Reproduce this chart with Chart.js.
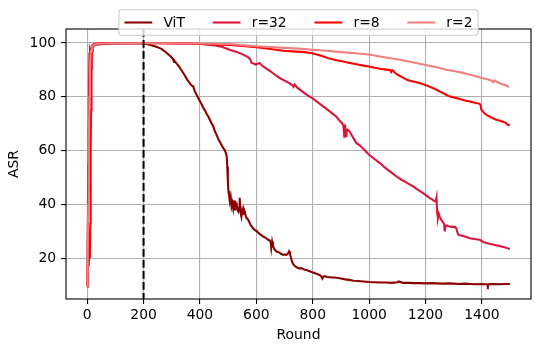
<!DOCTYPE html>
<html><head><meta charset="utf-8">
<script src="https://cdn.jsdelivr.net/npm/chart.js@4/dist/chart.umd.min.js"></script>
<style>html,body{margin:0;padding:0;background:#fff;}canvas{display:block;}</style>
</head><body>
<canvas id="c" width="540" height="352" style="width:540px;height:352px"></canvas>
<script>
// ---- data ----
const seriesLabels = ['ViT', 'r=32', 'r=8', 'r=2'];
const seriesColors = ['#8b0000', '#dc143c', '#ff0000', '#f08080'];
const xTicks = [0, 200, 400, 600, 800, 1000, 1200, 1400];
const yTicks = [20, 40, 60, 80, 100];
const triggerRound = 200;
const xLabel = 'Round';
const yLabel = 'ASR';

const vitRounds = [
 0, 2, 4, 6, 8, 10, 12, 14, 17, 20,
 25, 30, 40, 60, 80, 100, 130, 160, 200, 210,
 220, 230, 240, 250, 258, 266, 274, 282, 290, 298,
 304, 308, 311, 316, 322, 330, 338, 346, 354, 362,
 370, 376, 382, 388, 394, 400, 406, 412, 418, 424,
 430, 435, 441, 447, 453, 459, 465, 470, 476, 482,
 488, 492, 495, 497, 499, 501, 503, 506, 509, 512,
 515, 518, 521, 524, 527, 530, 533, 536, 539, 541,
 543, 545, 547, 550, 553, 556, 559, 562, 565, 568,
 571, 576, 580, 584, 588, 594, 600, 606, 612, 618,
 624, 630, 636, 642, 648, 651, 653, 656, 659, 662,
 665, 668, 671, 677, 683, 689, 695, 700, 705, 710,
 713, 716, 719, 722, 726, 730, 734, 738, 743, 748,
 754, 760, 766, 772, 778, 784, 790, 796, 801, 808,
 815, 822, 828, 834, 838, 845, 852, 860, 868, 876,
 885, 900, 915, 930, 945, 960, 980, 1000, 1020, 1040,
 1060, 1080, 1100, 1104, 1120, 1140, 1160, 1180, 1200, 1220,
 1240, 1260, 1280, 1300, 1320, 1340, 1360, 1380, 1400, 1410,
 1418, 1421, 1424, 1440, 1460, 1480, 1499
];
const vitASR = [
 9.5, 22, 45, 68, 84, 92, 95.5, 97.2, 98.3, 98.8,
 99.2, 99.4, 99.5, 99.6, 99.7, 99.8, 99.8, 99.9, 99.8, 99.6,
 99.4, 99.1, 98.8, 98.4, 98.1, 97.6, 97.0, 96.3, 95.6, 94.8,
 94.1, 93.0, 93.2, 92.5, 91.8, 90.6, 89.3, 88.0, 86.5, 85.4,
 84.2, 83.9, 82.0, 80.8, 79.6, 78.4, 77.2, 75.9, 74.9, 73.6,
 72.6, 71.5, 70.2, 69.1, 67.2, 65.9, 64.3, 63.4, 62.2, 61.0,
 60.2, 59.1, 57.8, 54.0, 48.5, 45.0, 43.6, 41.2, 42.8, 39.3,
 40.6, 38.6, 41.5, 37.8, 39.6, 40.2, 38.0, 37.4, 39.0, 42.5,
 38.2, 36.5, 35.5, 37.8, 36.6, 38.2, 37.4, 35.8, 35.0, 34.8,
 34.3, 33.2, 32.4, 31.8, 31.2, 30.6, 30.2, 29.6, 29.0, 28.6,
 28.1, 27.8, 27.4, 26.9, 26.6, 25.8, 23.8, 26.2, 24.6, 24.0,
 23.2, 23.0, 22.5, 22.4, 22.0, 21.6, 21.3, 21.5, 21.2, 21.6,
 21.9, 22.6, 21.8, 20.6, 19.0, 18.0, 17.4, 17.0, 16.7, 16.4,
 16.2, 16.4, 16.0, 15.8, 15.7, 15.4, 15.2, 14.9, 14.7, 14.5,
 14.2, 13.9, 13.6, 12.5, 13.3, 13.3, 13.1, 13.0, 12.9, 12.9,
 12.8, 12.5, 12.2, 12.0, 11.7, 11.6, 11.4, 11.2, 11.1, 11.0,
 11.0, 10.9, 11.1, 11.4, 10.9, 10.9, 10.8, 10.8, 10.7, 10.8,
 10.7, 10.6, 10.7, 10.6, 10.5, 10.6, 10.5, 10.4, 10.5, 10.4,
 10.4, 9.8, 10.4, 10.5, 10.4, 10.5, 10.5
];

const r32Rounds = [
 0, 2, 4, 6, 8, 10, 12, 14, 16, 20,
 25, 30, 40, 60, 100, 150, 200, 250, 300, 350,
 400, 430, 460, 480, 505, 530, 553, 570, 578, 583,
 590, 597, 605, 612, 618, 624, 637, 650, 666, 683,
 700, 715, 728, 732, 736, 745, 760, 778, 790, 801,
 815, 830, 845, 860, 872, 884, 896, 904, 909, 912,
 914, 916, 918, 920, 924, 931, 940, 948, 955, 967,
 980, 1000, 1020, 1038, 1055, 1070, 1085, 1097, 1115, 1130,
 1145, 1156, 1172, 1190, 1205, 1215, 1225, 1232, 1236, 1239,
 1241, 1244, 1247, 1250, 1256, 1262, 1266, 1268, 1271, 1276,
 1285, 1295, 1305, 1309, 1313, 1317, 1330, 1345, 1357, 1372,
 1392, 1405, 1416, 1430, 1450, 1465, 1480, 1490, 1499
];
const r32ASR = [
 9.5, 28, 55, 80, 96, 97.5, 96.8, 90.5, 98.8, 99.4,
 99.6, 99.8, 99.9, 100, 100, 100, 100, 100, 99.9, 99.9,
 99.7, 99.4, 99.0, 98.5, 97.5, 96.7, 95.7, 94.8, 94.0, 92.6,
 92.4, 92.0, 92.3, 92.6, 91.8, 91.3, 90.4, 89.5, 88.2, 87.0,
 86.0, 85.2, 84.3, 83.7, 84.6, 83.4, 82.2, 80.8, 80.0, 79.3,
 78.2, 77.0, 75.8, 74.6, 73.6, 72.6, 71.0, 70.2, 69.0, 65.2,
 69.8, 68.3, 65.5, 67.0, 67.8, 67.1, 65.4, 64.0, 62.8, 62.0,
 60.6, 58.5, 56.8, 55.4, 53.8, 52.6, 51.4, 50.4, 49.2, 48.3,
 47.4, 46.7, 45.5, 44.3, 43.2, 42.4, 41.8, 41.2, 41.1, 42.6,
 37.0, 35.0, 36.5, 35.5, 34.3, 33.5, 32.6, 30.0, 31.9, 32.2,
 31.8, 31.7, 31.6, 31.2, 29.6, 28.7, 28.4, 27.9, 27.5, 27.2,
 26.9, 26.1, 25.7, 25.3, 24.9, 24.5, 24.1, 23.8, 23.5
];

const r8Rounds = [
 0, 2, 4, 5, 6, 8, 9, 10, 11, 12,
 13, 14, 15, 16, 18, 20, 25, 30, 40, 60,
 100, 150, 200, 250, 300, 350, 400, 450, 506, 550,
 600, 650, 695, 740, 770, 798, 830, 860, 880, 900,
 931, 960, 980, 1000, 1020, 1038, 1061, 1075, 1078, 1082,
 1086, 1090, 1100, 1115, 1132, 1144, 1160, 1175, 1197, 1212,
 1225, 1238, 1250, 1262, 1275, 1286, 1300, 1321, 1340, 1357,
 1375, 1392, 1395, 1398, 1403, 1410, 1416, 1430, 1451, 1470,
 1485, 1490, 1499
];
const r8ASR = [
 9.5, 14, 22, 30, 17, 24, 20, 21, 33, 45,
 62, 75, 88, 94, 97, 98.3, 99.2, 99.5, 99.7, 99.8,
 99.9, 99.9, 99.9, 99.9, 99.8, 99.7, 99.6, 99.5, 99.3, 98.9,
 98.4, 97.8, 97.1, 96.8, 96.6, 96.2, 95.3, 94.2, 93.7, 93.3,
 92.6, 92.0, 91.6, 91.3, 90.8, 90.4, 90.1, 89.9, 89.2, 89.9,
 89.7, 89.0, 88.3, 87.4, 86.4, 86.0, 85.6, 85.2, 84.5, 83.9,
 83.3, 82.7, 82.0, 81.4, 80.7, 80.1, 79.8, 79.2, 78.6, 78.3,
 77.8, 77.4, 77.0, 75.2, 74.6, 73.8, 73.3, 72.5, 71.5, 70.9,
 70.3, 69.7, 69.3
];

const r2Rounds = [
 0, 2, 4, 6, 8, 10, 12, 14, 17, 20,
 25, 30, 40, 60, 100, 150, 200, 250, 300, 350,
 400, 450, 506, 550, 600, 650, 700, 750, 798, 850,
 900, 950, 1000, 1038, 1070, 1108, 1144, 1170, 1197, 1220,
 1240, 1274, 1300, 1333, 1350, 1370, 1399, 1420, 1435, 1440,
 1445, 1451, 1460, 1470, 1485, 1496, 1499
];
const r2ASR = [
 9.5, 20, 40, 62, 80, 90, 95, 97, 98.3, 98.9,
 99.3, 99.5, 99.7, 99.8, 99.9, 99.9, 99.9, 99.9, 99.9, 99.8,
 99.8, 99.7, 99.6, 99.2, 98.8, 98.5, 98.2, 97.9, 97.5, 97.1,
 96.6, 96.2, 95.7, 95.0, 94.4, 93.8, 93.0, 92.5, 91.9, 91.4,
 91.0, 90.1, 89.6, 88.9, 88.4, 87.9, 87.0, 86.5, 86.0, 85.4,
 86.1, 85.7, 85.2, 84.8, 84.2, 83.6, 83.6
];

// ---- rendering ----
const FS = 13.9;
const FONT = 'DejaVu Sans';
Chart.defaults.font.family = FONT;
Chart.defaults.font.size = FS;
Chart.defaults.color = '#000';

const allRounds = [vitRounds, r32Rounds, r8Rounds, r2Rounds];
const allValues = [vitASR, r32ASR, r8ASR, r2ASR];
const toPoints = (rs, vs) => rs.map((r, i) => ({ x: r, y: vs[i] }));

const datasets = seriesLabels.map((lab, i) => ({
  label: lab,
  data: toPoints(allRounds[i], allValues[i]),
  borderColor: seriesColors[i],
  backgroundColor: seriesColors[i],
  borderWidth: 2.08,
  pointRadius: 0,
  tension: 0,
  fill: false,
  order: seriesLabels.length - i
}));

const LW = 1.1;
const framePlugin = {
  id: 'frameAndLine',
  afterDatasetsDraw(chart) {
    const { ctx, chartArea: a, scales } = chart;
    ctx.save();
    // dashed vertical line
    const xp = scales.x.getPixelForValue(triggerRound);
    ctx.beginPath();
    ctx.rect(a.left, a.top, a.right - a.left, a.bottom - a.top);
    ctx.clip();
    ctx.strokeStyle = '#000';
    ctx.lineWidth = 2.08;
    ctx.setLineDash([7.7, 3.3]);
    ctx.beginPath();
    ctx.moveTo(xp, a.top);
    ctx.lineTo(xp, a.bottom);
    ctx.stroke();
    ctx.restore();
    ctx.save();
    ctx.strokeStyle = '#000';
    ctx.lineWidth = LW;
    ctx.strokeRect(a.left, a.top, a.right - a.left, a.bottom - a.top);
    ctx.restore();
  }
};

const legendPlugin = {
  id: 'mplLegend',
  afterDraw(chart) {
    const { ctx, chartArea: a } = chart;
    ctx.save();
    ctx.font = FS + 'px "' + FONT + '"';
    const pad = 0.4 * FS, hl = 2 * FS, htp = 0.8 * FS, cs = 2 * FS;
    const items = chart.data.datasets.map(d => ({ label: d.label, color: d.borderColor, w: ctx.measureText(d.label).width }));
    const total = 2 * pad + items.reduce((s, it) => s + hl + htp + it.w, 0) + cs * (items.length - 1);
    const h = 25.6;
    const cx = (a.left + a.right) / 2;
    const x0 = cx - total / 2, y0 = 9.7;
    ctx.beginPath();
    if (ctx.roundRect) ctx.roundRect(x0, y0, total, h, 2.8); else ctx.rect(x0, y0, total, h);
    ctx.fillStyle = 'rgba(255,255,255,0.8)';
    ctx.fill();
    ctx.strokeStyle = '#cccccc';
    ctx.lineWidth = 1.1;
    ctx.stroke();
    let x = x0 + pad;
    const yc = y0 + h / 2;
    ctx.textBaseline = 'middle';
    ctx.textAlign = 'left';
    for (const it of items) {
      ctx.strokeStyle = it.color;
      ctx.lineWidth = 2.08;
      ctx.beginPath();
      ctx.moveTo(x, yc);
      ctx.lineTo(x + hl, yc);
      ctx.stroke();
      ctx.fillStyle = '#000';
      ctx.fillText(it.label, x + hl + htp, yc + 0.5);
      x += hl + htp + it.w + cs;
    }
    ctx.restore();
  }
};

const gridOpts = {
  color: '#b0b0b0',
  lineWidth: LW,
  drawTicks: true,
  tickLength: 4.9,
  tickColor: '#000',
  tickWidth: LW
};

new Chart(document.getElementById('c'), {
  type: 'line',
  data: { datasets },
  options: {
    responsive: false,
    animation: false,
    devicePixelRatio: 1,
    layout: { padding: { top: 29, right: 9, left: 0, bottom: 0 } },
    plugins: { legend: { display: false }, tooltip: { enabled: false } },
    scales: {
      x: {
        type: 'linear',
        min: -75,
        max: 1574,
        grid: gridOpts,
        border: { display: false },
        afterBuildTicks: s => { s.ticks = xTicks.map(v => ({ value: v })); },
        afterFit: s => { s.height = 53; },
        ticks: { padding: 3, maxRotation: 0, autoSkip: false, callback: v => String(v) },
        title: { display: true, text: xLabel, padding: { top: 0, bottom: 8 } }
      },
      y: {
        type: 'linear',
        min: 4.9,
        max: 105.2,
        grid: gridOpts,
        border: { display: false },
        afterBuildTicks: s => { s.ticks = yTicks.map(v => ({ value: v })); },
        afterFit: s => { s.width = 66; },
        ticks: { padding: 5, autoSkip: false, callback: v => String(v) },
        title: { display: true, text: yLabel, padding: { top: 6, bottom: 0 } }
      }
    }
  },
  plugins: [framePlugin, legendPlugin]
});
</script>
</body></html>
